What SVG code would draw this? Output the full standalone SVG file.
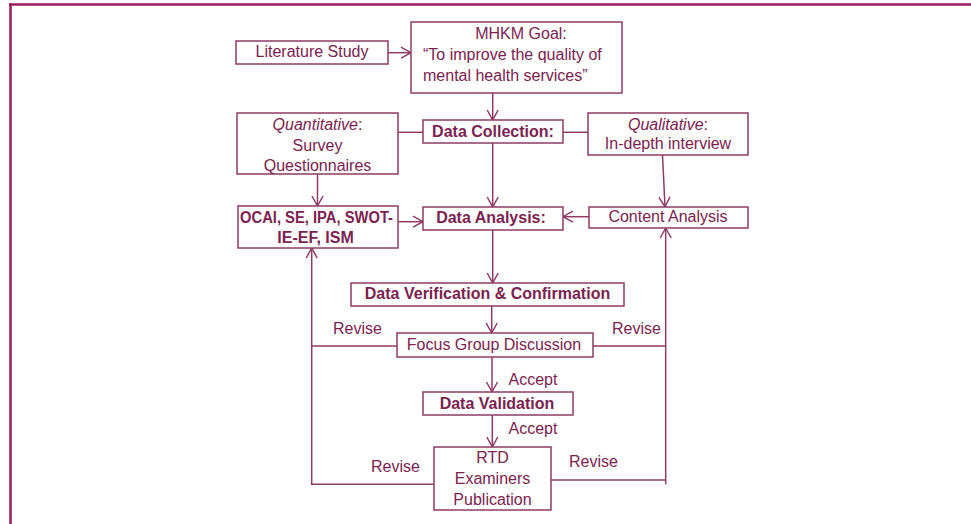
<svg xmlns="http://www.w3.org/2000/svg" width="971" height="524" viewBox="0 0 971 524">
<style>
  .box { fill: #ffffff; stroke: #8e3b65; stroke-width: 1.5; }
  .t { font-family: "Liberation Sans", Arial, sans-serif; font-size: 16px; fill: #7a2350; }
  .b { font-weight: bold; }
  .c { text-anchor: middle; }
  .ln { fill: none; stroke: #8e3b65; stroke-width: 1.5; }
  .frame { stroke: #9b1b5f; stroke-width: 2.5; fill: none; }
</style>
<defs>
  <marker id="ah" markerUnits="userSpaceOnUse" markerWidth="14" markerHeight="14" refX="11" refY="6" orient="auto" viewBox="0 0 14 12">
    <path d="M1,0.5 L11,6 L1,11.5" fill="none" stroke="#8e3b65" stroke-width="1.5"/>
  </marker>
</defs>
<rect x="0" y="0" width="971" height="524" fill="#ffffff"/>
<g id="frame">
  <line class="frame" x1="9" y1="4.5" x2="971" y2="4.5"/>
  <line class="frame" x1="10.5" y1="3.5" x2="10.5" y2="524"/>
</g>

<g id="connectors">
  <line class="ln" x1="388" y1="52.7" x2="411" y2="52.7" marker-end="url(#ah)"/>
  <line class="ln" x1="492.7" y1="93" x2="492.7" y2="120" marker-end="url(#ah)"/>
  <line class="ln" x1="398" y1="132.3" x2="423" y2="132.3"/>
  <line class="ln" x1="563" y1="132.3" x2="588" y2="132.3"/>
  <line class="ln" x1="317.5" y1="174" x2="317.5" y2="206" marker-end="url(#ah)"/>
  <line class="ln" x1="492.7" y1="143" x2="492.7" y2="207" marker-end="url(#ah)"/>
  <line class="ln" x1="662.5" y1="155" x2="665" y2="207" marker-end="url(#ah)"/>
  <line class="ln" x1="398" y1="221.7" x2="423" y2="221.7" marker-end="url(#ah)" stroke-width="2"/>
  <line class="ln" x1="589" y1="216.7" x2="563" y2="216.7" marker-end="url(#ah)"/>
  <line class="ln" x1="492.7" y1="230" x2="492.7" y2="283" marker-end="url(#ah)"/>
  <line class="ln" x1="491.7" y1="306" x2="491.7" y2="333" marker-end="url(#ah)"/>
  <line class="ln" x1="492" y1="357" x2="492" y2="392" marker-end="url(#ah)"/>
  <line class="ln" x1="492.3" y1="415" x2="492.3" y2="447" marker-end="url(#ah)"/>
  <polyline class="ln" points="397,346 311.7,346"/>
  <polyline class="ln" points="434,484.3 311.7,484.3 311.7,248" marker-end="url(#ah)"/>
  <polyline class="ln" points="593,346 665.7,346"/>
  <polyline class="ln" points="551,480 665.7,480"/>
  <line class="ln" x1="665.7" y1="484.3" x2="665.7" y2="228" marker-end="url(#ah)"/>
</g>

<g id="literature">
  <rect class="box" x="236" y="41" width="152" height="23"/>
  <text class="t c" x="312" y="57">Literature Study</text>
</g>
<g id="goal">
  <rect class="box" x="411" y="22" width="211" height="71"/>
  <text class="t c" x="521" y="38.5">MHKM Goal:</text>
  <text class="t" x="423" y="59.5">“To improve the quality of</text>
  <text class="t" x="423" y="80.5">mental health services”</text>
</g>
<g id="quantitative">
  <rect class="box" x="237" y="113" width="161" height="61"/>
  <text class="t c" x="317.5" y="129.5"><tspan font-style="italic">Quantitative</tspan>:</text>
  <text class="t c" x="317.5" y="151">Survey</text>
  <text class="t c" x="317.5" y="171">Questionnaires</text>
</g>
<g id="collection">
  <rect class="box" x="423" y="120" width="140" height="23"/>
  <text class="t b c" x="493" y="136.5">Data Collection:</text>
</g>
<g id="qualitative">
  <rect class="box" x="588" y="113" width="160" height="42"/>
  <text class="t c" x="668" y="129.5"><tspan font-style="italic">Qualitative</tspan>:</text>
  <text class="t c" x="668" y="149">In-depth interview</text>
</g>
<g id="methods">
  <rect class="box" x="238" y="206" width="160" height="42"/>
  <text class="t b" x="240" y="222.7" textLength="153" lengthAdjust="spacingAndGlyphs">OCAI, SE, IPA, SWOT-</text>
  <text class="t b c" x="315.5" y="242.7">IE-EF, ISM</text>
</g>
<g id="analysis">
  <rect class="box" x="423" y="207" width="140" height="23"/>
  <text class="t b c" x="491" y="223.3">Data Analysis:</text>
</g>
<g id="content">
  <rect class="box" x="589" y="207" width="159" height="21"/>
  <text class="t c" x="668" y="222.3">Content Analysis</text>
</g>
<g id="verification">
  <rect class="box" x="351" y="283" width="273" height="23"/>
  <text class="t b c" x="487.5" y="299.3">Data Verification &amp; Confirmation</text>
</g>
<g id="fgd">
  <rect class="box" x="397" y="333" width="196" height="24"/>
  <text class="t c" x="494" y="350">Focus Group Discussion</text>
</g>
<g id="validation">
  <rect class="box" x="423" y="392" width="150" height="23"/>
  <text class="t b c" x="497" y="408.5">Data Validation</text>
</g>
<g id="rtd">
  <rect class="box" x="434" y="447" width="117" height="63"/>
  <text class="t c" x="492.5" y="463">RTD</text>
  <text class="t c" x="492.5" y="484">Examiners</text>
  <text class="t c" x="492.5" y="504.5">Publication</text>
</g>
<g id="labels">
  <text class="t" x="333" y="334">Revise</text>
  <text class="t" x="612" y="334">Revise</text>
  <text class="t" x="508.5" y="384.5">Accept</text>
  <text class="t" x="508.5" y="433.5">Accept</text>
  <text class="t" x="371" y="471.7">Revise</text>
  <text class="t" x="569" y="466.7">Revise</text>
</g>
</svg>
